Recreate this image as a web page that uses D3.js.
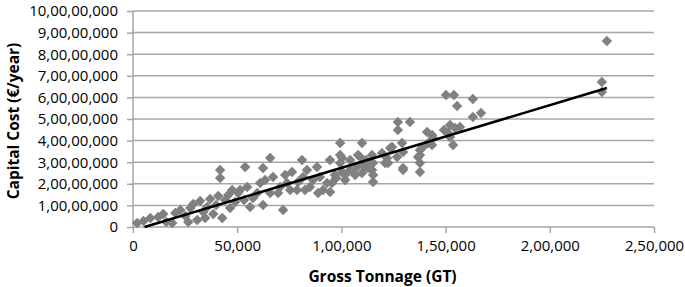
<!DOCTYPE html>
<html>
<head>
<meta charset="utf-8">
<script src="https://cdn.jsdelivr.net/npm/d3@7"></script>
<style>
  body { margin: 0; background: #fff; }
  svg { display: block; font-family: "Open Sans", "Liberation Sans", sans-serif; }
</style>
</head>
<body>
<div id="chart"></div>
<script>
// Gross tonnage (GT) of each vessel
const grossTonnage = [
  2000, 5000, 8300, 12100, 14500, 16000, 18800, 20300, 22700, 25100,
  26500, 27500, 28900, 30800, 32200, 33700, 35600, 37000, 38500, 39900,
  40900, 41800, 41800, 42800, 44200, 45700, 46600, 47600, 49000, 50400,
  34600,
  53800, 65800, 62400, 81100, 51400, 54800, 57600, 61000, 62400, 67200,
  70600, 72000, 73900, 76300, 78700, 81600, 84900, 88300, 89700, 91200,
  93100, 94500, 86400, 79200, 69600, 65800, 56200, 59600, 63400, 75400,
  83500, 73000, 82500, 88800, 96900, 53300,
  127100, 132900, 127100, 141100, 143500, 99400, 109900, 124300, 129100, 99400,
  99400, 109000, 114700, 110400, 112800, 115200, 115200, 101800, 101800, 95500,
  94600, 121900, 122400, 126700, 129600, 129600, 136800, 137700, 137700, 139200,
  141600, 144000, 107500, 104200, 119500, 129600, 137700, 137700, 123400, 121000,
  108000, 111800, 115200, 114700, 111400, 109900, 100300, 100300, 106600, 97500,
  104200,
  150200, 154000, 155500, 163100, 163100, 167000, 152100, 154500, 156900, 153600,
  152100, 151200, 143500, 149200,
  225000, 225000, 227400
];

// Capital cost (EUR per year), same order as grossTonnage
const capitalCost = [
  1.85e6, 2.78e6, 4.17e6, 4.63e6, 6.02e6, 2.31e6, 1.85e6, 6.48e6, 7.87e6, 5.09e6,
  2.31e6, 8.80e6, 10.65e6, 3.24e6, 12.04e6, 6.94e6, 9.26e6, 12.96e6, 6.02e6, 10.19e6,
  14.35e6, 26.39e6, 22.69e6, 4.17e6, 12.50e6, 14.81e6, 8.80e6, 17.13e6, 11.57e6, 15.74e6,
  4.17e6,
  27.78e6, 31.94e6, 27.31e6, 31.02e6, 17.13e6, 18.52e6, 13.43e6, 20.37e6, 10.19e6, 23.15e6,
  18.52e6, 7.87e6, 20.37e6, 25.46e6, 17.13e6, 23.15e6, 18.52e6, 27.78e6, 23.15e6, 17.13e6,
  20.37e6, 31.02e6, 21.76e6, 20.83e6, 15.74e6, 15.74e6, 9.26e6, 15.74e6, 21.76e6, 17.13e6,
  26.39e6, 24.07e6, 17.13e6, 15.74e6, 24.07e6, 12.50e6,
  48.61e6, 48.61e6, 44.91e6, 43.98e6, 42.59e6, 38.89e6, 38.89e6, 37.04e6, 38.89e6, 33.33e6,
  29.63e6, 32.41e6, 33.33e6, 29.63e6, 27.31e6, 24.07e6, 20.83e6, 24.07e6, 21.76e6, 20.37e6,
  16.20e6, 31.94e6, 29.63e6, 32.41e6, 34.72e6, 27.31e6, 32.41e6, 29.63e6, 25.46e6, 37.04e6,
  38.89e6, 41.20e6, 27.78e6, 26.39e6, 34.26e6, 26.39e6, 35.65e6, 33.33e6, 36.57e6, 29.63e6,
  33.33e6, 31.02e6, 29.63e6, 26.39e6, 27.78e6, 25.00e6, 31.94e6, 25.46e6, 24.07e6, 22.69e6,
  31.02e6,
  61.11e6, 61.11e6, 56.02e6, 59.26e6, 50.93e6, 52.78e6, 47.22e6, 45.83e6, 46.30e6, 37.96e6,
  41.67e6, 43.52e6, 37.96e6, 44.91e6,
  67.13e6, 62.50e6, 86.11e6
];

// linear trendline as drawn in the source chart (cost = slope * GT + intercept)
const trendSlope = 290;
const trendIntercept = -1.6e6;

const xTickValues = [0, 50000, 100000, 150000, 200000, 250000];
const yTickValues = [0, 1e7, 2e7, 3e7, 4e7, 5e7, 6e7, 7e7, 8e7, 9e7, 1e8];
const xTitle = "Gross Tonnage (GT)";
const yTitle = "Capital Cost (€/year)";

const width = 685;
const height = 287;
const margin = { top: 11, right: 31, bottom: 60, left: 133 };

const points = grossTonnage.map((gt, i) => ({ x: gt, y: capitalCost[i] }));

// Indian digit grouping, e.g. 10,00,00,000
function indianFormat(value) {
  const s = String(Math.round(value));
  if (s.length <= 3) return s;
  const last3 = s.slice(-3);
  let rest = s.slice(0, -3);
  const groups = [];
  while (rest.length > 2) {
    groups.unshift(rest.slice(-2));
    rest = rest.slice(0, -2);
  }
  if (rest.length) groups.unshift(rest);
  return groups.join(",") + "," + last3;
}

const xScale = d3.scaleLinear().domain([0, 250000]).range([margin.left, width - margin.right]);
const yScale = d3.scaleLinear().domain([0, 1e8]).range([height - margin.bottom, margin.top]);

const svg = d3.select("#chart")
  .append("svg")
  .attr("width", width)
  .attr("height", height);

const gridColor = "#a6a6a6";

// horizontal gridlines
svg.append("g")
  .selectAll("line")
  .data(yTickValues.slice(1))
  .enter()
  .append("line")
  .attr("x1", margin.left)
  .attr("x2", width - margin.right)
  .attr("y1", (d) => yScale(d))
  .attr("y2", (d) => yScale(d))
  .attr("stroke", gridColor)
  .attr("stroke-width", 1.5);

const xAxis = d3.axisBottom(xScale).tickValues(xTickValues).tickFormat(indianFormat).tickSize(6).tickPadding(7);
const yAxis = d3.axisLeft(yScale).tickValues(yTickValues).tickFormat(indianFormat).tickSize(6).tickPadding(9);

const gx = svg.append("g")
  .attr("transform", `translate(0, ${yScale(0)})`)
  .call(xAxis);

const gy = svg.append("g")
  .attr("transform", `translate(${margin.left}, 0)`)
  .call(yAxis);

[gx, gy].forEach((g) => {
  g.select(".domain").attr("stroke", gridColor).attr("stroke-width", 1.5);
  g.selectAll(".tick line").attr("stroke", gridColor).attr("stroke-width", 1.5);
  g.selectAll(".tick text").attr("fill", "#000").style("font-size", "15px").style("font-family", "'Open Sans', sans-serif");
});
gx.select(".domain").attr("d", `M${xScale(0)},0H${xScale(250000)}`);
gy.select(".domain").attr("d", `M0,${yScale(0)}V${yScale(1e8)}`);

// data markers: grey diamonds
const diamond = d3.symbol().type(d3.symbolSquare).size(55);
svg.append("g")
  .selectAll("path")
  .data(points)
  .enter()
  .append("path")
  .attr("d", diamond)
  .attr("transform", (d) => `translate(${xScale(d.x)}, ${yScale(d.y)}) rotate(45)`)
  .attr("fill", "#808080");

// trendline, clipped where cost reaches zero, up to the largest vessel
const xStart = -trendIntercept / trendSlope;
const xEnd = d3.max(grossTonnage);
const trendLine = d3.line().x((d) => xScale(d)).y((d) => yScale(trendSlope * d + trendIntercept));

svg.append("path")
  .datum([xStart, xEnd])
  .attr("d", trendLine)
  .attr("fill", "none")
  .attr("stroke", "#000")
  .attr("stroke-width", 2.5);

svg.append("text")
  .attr("x", xScale(125000) - 11)
  .attr("y", 282)
  .attr("text-anchor", "middle")
  .style("font-size", "15.5px")
  .style("font-weight", "bold")
  .text(xTitle);

svg.append("text")
  .attr("transform", `translate(19, ${yScale(5e7) + 2}) rotate(-90)`)
  .attr("text-anchor", "middle")
  .style("font-size", "15.5px")
  .style("font-weight", "bold")
  .text(yTitle);
</script>
</body>
</html>
